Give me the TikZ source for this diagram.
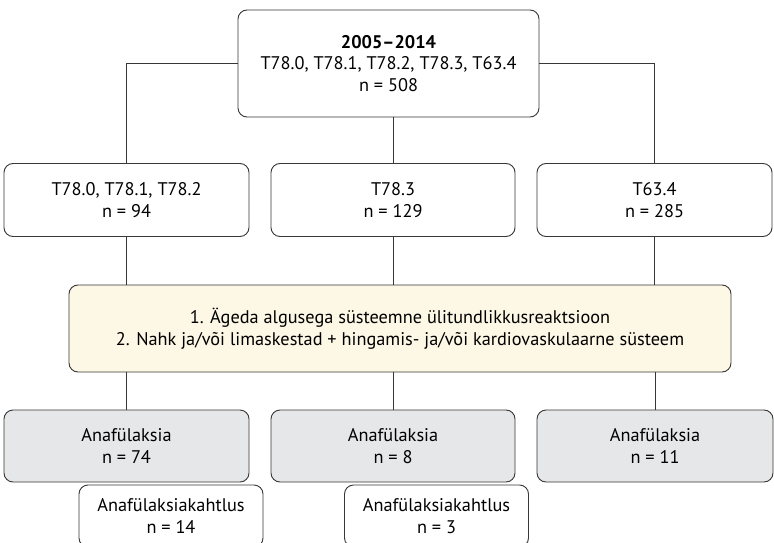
\documentclass[tikz,border=0pt]{standalone}
\usepackage{fontspec}
\setmainfont{PT Sans}
\usetikzlibrary{positioning}
\definecolor{ink}{RGB}{55,55,55}
\definecolor{greyfill}{RGB}{230,231,232}
\definecolor{creamfill}{RGB}{253,247,229}
\tikzset{
  every picture/.style={color=ink, line width=0.9pt, font=\fontsize{18.3}{21.5}\selectfont},
  box/.style={draw=ink, rounded corners=9pt, fill=white, text=black, inner sep=0pt, align=center},
  group/.style={box, minimum width=245pt, minimum height=73pt},
  crit/.style={box, fill=creamfill, minimum width=662pt, minimum height=87pt},
  result/.style={group, fill=greyfill, minimum height=72pt},
  doubt/.style={box, minimum width=184pt, minimum height=62pt},
  link/.style={line width=0.9pt},
}

\begin{document}
\begin{tikzpicture}[x=1pt, y=-1pt]
  \useasboundingbox (0,0) rectangle (774,543);
  \node[box, minimum width=301pt, minimum height=107pt] (all) at (388.5,63.5) {{\bfseries 2005–2014}\\ T78.0, T78.1, T78.2, T78.3, T63.4\\ n = 508};
  \node[group] (g1) at (126.5,200) {T78.0, T78.1, T78.2\\ n = 94};
  \node[group, minimum width=244pt] (g2) at (393,200) {T78.3\\ n = 129};
  \node[group, minimum width=235pt] (g3) at (654.5,200) {T63.4\\ n = 285};
  \node[crit] (crit) at (400,328.5) {1. Ägeda algusega süsteemne ülitundlikkusreaktsioon\\ 2. Nahk ja/või limaskestad + hingamis- ja/või kardiovaskulaarne süsteem};
  \node[result] (r1) at (126.5,446) {Anafülaksia\\ n = 74};
  \node[result, minimum width=244pt] (r2) at (393,446) {Anafülaksia\\ n = 8};
  \node[result, minimum width=236pt] (r3) at (655,446) {Anafülaksia\\ n = 11};
  \node[doubt] (d1) at (171,516) {Anafülaksiakahtlus\\ n = 14};
  \node[doubt] (d2) at (436.5,516) {Anafülaksiakahtlus\\ n = 3};
  % links
  \draw[link] (all) -| (g1);
  \draw[link] (all) -| (g3);
  \draw[link] (g2 |- all.south) -- (g2);
  \foreach \g in {g1,g2,g3} \draw[link] (\g) -- (\g |- crit.north);
  \foreach \r in {r1,r2,r3} \draw[link] (crit.south -| \r) -- (\r);
\end{tikzpicture}
\end{document}
